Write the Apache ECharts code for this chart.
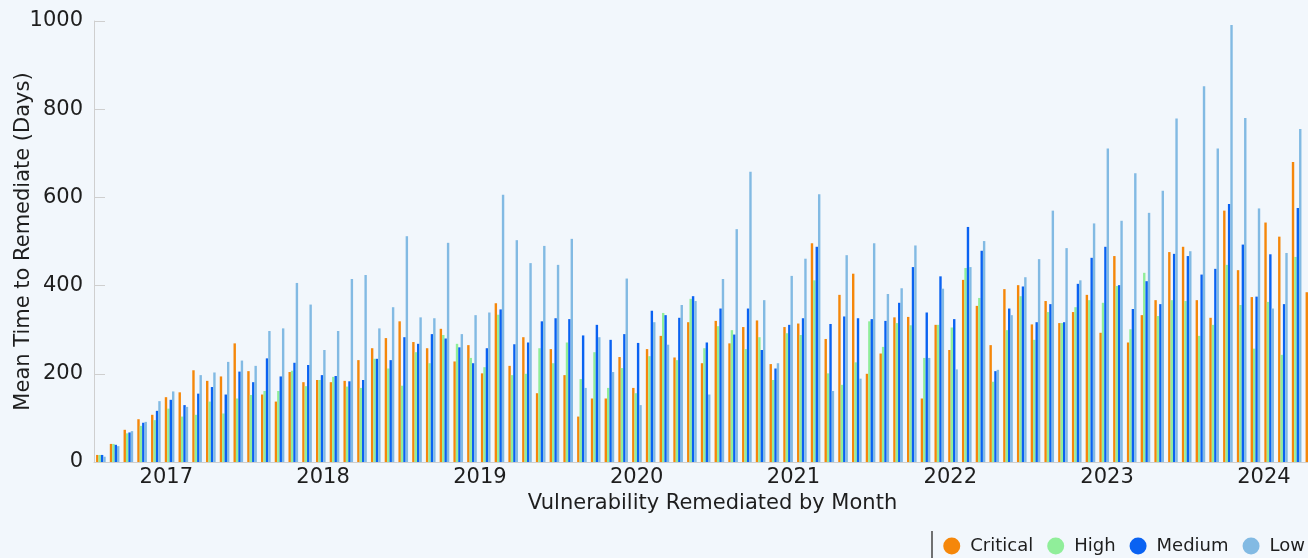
<!DOCTYPE html>
<html>
<head>
<meta charset="utf-8">
<script src="https://cdn.jsdelivr.net/npm/echarts@6/dist/echarts.min.js"></script>
<style>
html,body{margin:0;padding:0;background:#f2f7fc;}
#chart{width:1308px;height:558px;}
</style>
</head>
<body>
<div id="chart"></div>
<script>
// Remediation periods (monthly buckets, left to right)
const periods = Array.from({length: 90}, (_, i) => 'Period ' + (i + 1));

const critical = [16,41,73,97,107,147,158,208,184,194,269,206,153,137,204,181,186,181,184,231,258,281,319,272,258,302,228,265,201,360,218,283,156,256,197,103,144,144,238,168,256,286,237,317,224,320,269,306,321,222,306,314,496,279,379,427,200,246,328,329,144,311,254,413,354,265,392,401,312,365,315,340,379,293,467,271,333,367,476,488,367,327,570,435,374,543,511,680,385,null];
const high = [16,41,65,82,95,121,103,107,137,110,144,152,161,161,207,172,186,193,171,168,234,212,173,249,224,288,268,236,215,334,197,200,258,224,271,188,249,168,213,156,240,338,231,370,258,308,299,256,283,186,292,288,412,201,175,226,319,261,315,310,236,311,305,440,372,182,299,376,277,340,315,351,367,361,399,301,429,331,367,365,286,311,447,356,257,363,243,465,null,null];
const medium = [16,39,67,89,116,141,129,155,170,153,205,181,235,194,225,220,197,195,183,186,234,231,283,268,290,280,260,224,258,346,267,271,319,326,324,287,311,277,290,270,343,333,327,376,271,348,289,348,254,212,311,326,488,313,330,326,324,320,361,442,339,421,324,533,479,206,348,398,317,358,317,404,463,488,401,347,410,358,472,467,425,438,585,493,375,471,358,576,null,null];
const low = [12,36,70,91,138,160,125,197,203,227,230,218,297,303,406,357,254,297,415,424,303,351,512,328,326,497,290,333,339,606,503,451,490,447,506,168,283,204,416,129,317,266,356,365,153,415,528,658,367,224,422,461,607,161,469,189,496,381,394,491,236,393,210,442,501,209,333,419,460,570,485,412,541,711,547,655,565,615,779,478,852,711,991,780,575,348,474,755,null,null];

const yearLabels = [2017,2018,2019,2020,2021,2022,2023,2024];
const seriesNames = ['Critical','High','Medium','Low'];

const FONT = 'DejaVu Sans';
const chart = echarts.init(document.getElementById('chart'), null, {renderer:'canvas'});

function bar(name, data, color){
  return {
    name, type:'bar', data, xAxisIndex:0, yAxisIndex:0,
    barGap:'0%', barCategoryGap:'30%',
    itemStyle:{color}, emphasis:{disabled:true}
  };
}

chart.setOption({
  backgroundColor:'#f2f7fc',
  animation:false,
  textStyle:{fontFamily:FONT, color:'#1e1e1e'},
  grid:{left:94, top:21, bottom:96, right:-23, containLabel:false, outerBoundsMode:'none'},
  legend:{
    data:seriesNames, right:3, top:537, icon:'circle', itemWidth:17, itemHeight:17, itemGap:14,
    padding:0,
    textStyle:{fontFamily:FONT, fontSize:18, color:'#1e1e1e', padding:[0,0,0,5]}
  },
  xAxis:[{
    type:'category', data:periods, position:'bottom',
    axisLine:{lineStyle:{color:'#cfcfcf', width:1}},
    axisTick:{inside:true, length:13, lineStyle:{color:'#d2d2d2', width:1.5}},
    axisLabel:{show:false},
    splitLine:{show:false},
    name:'Vulnerability Remediated by Month', nameLocation:'middle', nameGap:31, nameMoveOverlap:false,
    nameTextStyle:{fontFamily:FONT, fontSize:21, color:'#1e1e1e'}
  },{
    type:'value', position:'bottom', min:2016.539, max:2024.428,
    axisLine:{show:false}, axisTick:{show:false}, splitLine:{show:false},
    axisLabel:{customValues:yearLabels, formatter:v=>String(Math.round(v)), margin:5,
      fontFamily:FONT, fontSize:21, color:'#1e1e1e'}
  }],
  yAxis:{
    type:'value', min:0, max:1000, interval:200,
    axisLine:{show:true, lineStyle:{color:'#cfcfcf'}},
    axisTick:{show:true, inside:true, length:11, lineStyle:{color:'#cfcfcf'}},
    splitLine:{show:false},
    axisLabel:{fontFamily:FONT, fontSize:21, color:'#1e1e1e', margin:11, formatter:v=>String(v)},
    name:'Mean Time to Remediate (Days)', nameLocation:'middle', nameGap:60, nameMoveOverlap:false,
    nameTextStyle:{fontFamily:FONT, fontSize:21, color:'#1e1e1e'}
  },
  graphic:[{
    type:'line', shape:{x1:932, y1:531, x2:932, y2:558},
    style:{stroke:'#444', lineWidth:1.5}
  }],
  series:[
    bar('Critical', critical, '#f5870a'),
    bar('High', high, '#90ee9a'),
    bar('Medium', medium, '#0a62f2'),
    bar('Low', low, '#82bae3')
  ]
});
</script>
</body>
</html>
